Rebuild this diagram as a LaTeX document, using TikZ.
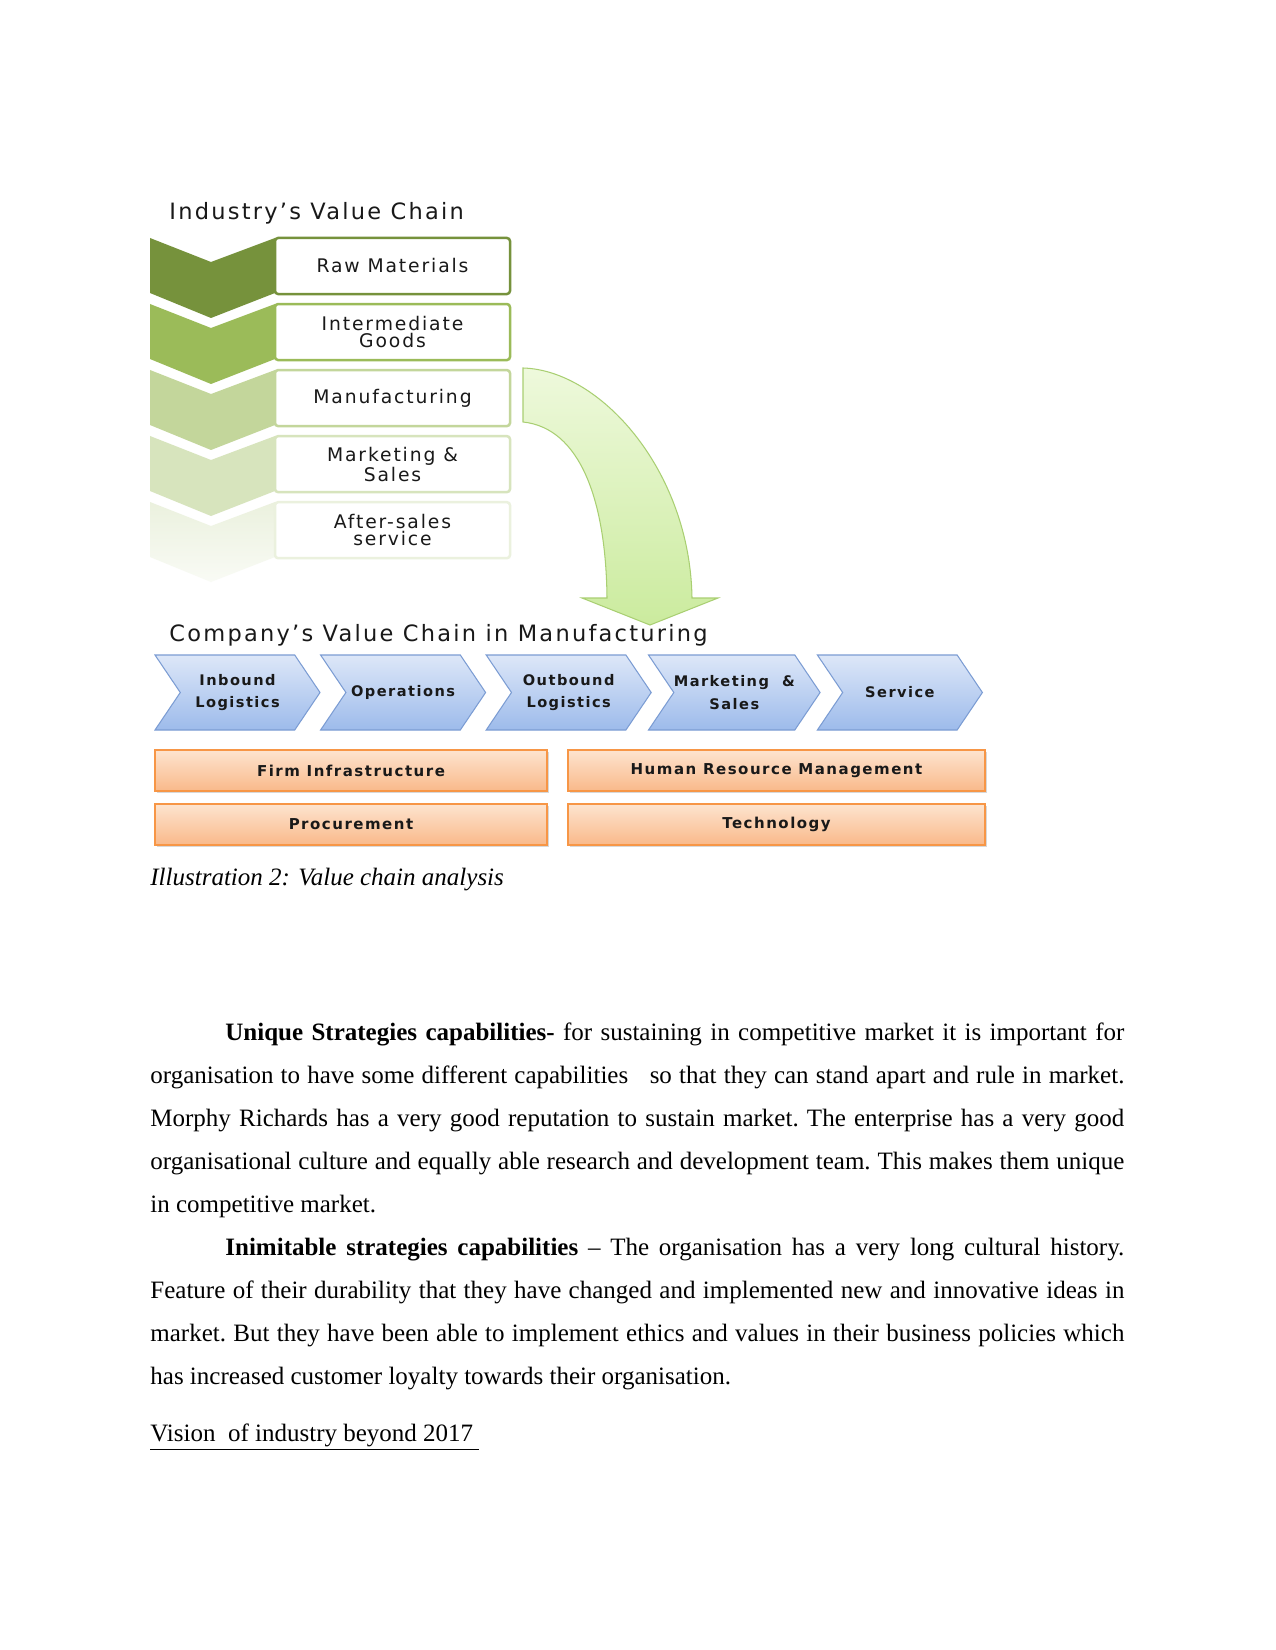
\documentclass[tikz,border=0pt]{standalone}
\usepackage{fontspec}
\usepackage{xcolor}
\usepackage{tikz}
\usetikzlibrary{shapes.symbols, positioning, shadows}
\setmainfont{Liberation Serif}
\newfontfamily\chainfont[LetterSpace=10]{DejaVu Sans}

\definecolor{oliveA}{HTML}{76923C}
\definecolor{oliveB}{HTML}{9BBB59}
\definecolor{oliveC}{HTML}{C3D69B}
\definecolor{oliveD}{HTML}{D7E4BD}
\definecolor{oliveE}{HTML}{EBF1DE}
\definecolor{blueTop}{HTML}{DDE7F8}
\definecolor{blueBot}{HTML}{9DBBEB}
\definecolor{blueLine}{HTML}{7B9CD3}
\definecolor{peachTop}{HTML}{FDE4CF}
\definecolor{peachBot}{HTML}{F9B98A}
\definecolor{peachLine}{HTML}{F79646}
\definecolor{bendTop}{HTML}{EEF9DC}
\definecolor{bendBot}{HTML}{CBEB9E}
\definecolor{bendLine}{HTML}{A9CF72}

\begin{document}
\begin{tikzpicture}[x=0.48pt, y=-0.48pt,
    headline/.style={anchor=west, inner sep=0pt, text=black!90, font=\chainfont\fontsize{10.8}{12}\selectfont},
    stagebox/.style={rectangle, fill=white, rounded corners=1.5pt, line width=1.2pt, minimum width=112.8pt, minimum height=26.9pt, align=center, text=black!90, font=\chainfont\fontsize{9}{8.3}\selectfont},
    primchev/.style={signal, signal from=west, signal to=east, signal pointer angle=112, inner sep=0pt, minimum width=79.2pt, minimum height=36pt, top color=blueTop, bottom color=blueBot, draw=blueLine, line width=0.5pt, align=center, text=black!90, font=\chainfont\bfseries\fontsize{7}{10.9}\selectfont},
    suppbox/.style={rectangle, minimum height=19.7pt, top color=peachTop, bottom color=peachBot, draw=peachLine, line width=0.6pt, drop shadow={shadow xshift=0.8pt, shadow yshift=-0.8pt, opacity=0.3}, text=black!90, font=\chainfont\bfseries\fontsize{7.2}{8.5}\selectfont},
    bodytext/.style={anchor=base west, inner sep=0pt, text width=467.5pt, align=justify, font=\fontsize{12}{20.64}\selectfont}]

    \path[use as bounding box, fill=white] (0,0) rectangle (1275,1650);

    % industry chain
    \node[headline] (indtitle) at (169,213) {Industry’s Value Chain};

    \fill[oliveA] (150,238) -- (211,262) -- (275,238) -- (275,293) -- (211,318) -- (150,293) -- cycle;
    \fill[oliveB] (150,304) -- (211,328) -- (275,304) -- (275,359) -- (211,384) -- (150,359) -- cycle;
    \fill[oliveC] (150,370) -- (211,394) -- (275,370) -- (275,425) -- (211,450) -- (150,425) -- cycle;
    \fill[oliveD] (150,436) -- (211,460) -- (275,436) -- (275,491) -- (211,516) -- (150,491) -- cycle;
    \shade[top color=oliveE, bottom color=oliveE!30] (150,502) -- (211,526) -- (275,502) -- (275,557) -- (211,582) -- (150,557) -- cycle;

    \node[stagebox, draw=oliveA] (raw) at (392.5,266) {Raw Materials};
    \node[stagebox, draw=oliveB, below=3.6pt of raw] (inter) {Intermediate\\Goods};
    \node[stagebox, draw=oliveC, below=3.6pt of inter] (manu) {Manufacturing};
    \node[stagebox, draw=oliveD, below=3.6pt of manu] (mkt) {Marketing \&\\Sales};
    \node[stagebox, draw=oliveE, below=3.6pt of mkt] (after) {After-sales\\service};

    % bent arrow
    \draw[bendLine, line width=0.5pt, top color=bendTop, bottom color=bendBot]
        (523,368) .. controls (600,370) and (690,470) .. (692,598) -- (718,598) -- (650,625)
        -- (582,598) -- (607,598) .. controls (606,500) and (580,428) .. (523,422) -- cycle;

    % company chain
    \node[headline] (comptitle) at (169,635) {Company’s Value Chain in Manufacturing};

    \node[primchev] (inbound) at (237.5,692.5) {Inbound\\Logistics};
    \node[primchev] (ops) at (403.1,692.5) {Operations};
    \node[primchev] (outbound) at (568.7,692.5) {Outbound\\Logistics};
    \node[primchev] (mktsales) at (734.3,692.5) {Marketing \ \&\\Sales};
    \node[primchev] (service) at (899.9,692.5) {Service};

    \node[suppbox, minimum width=188.2pt] (firm) at (351,770.5) {Firm Infrastructure};
    \node[suppbox, minimum width=188.2pt, below=5.6pt of firm] (procure) {Procurement};
    \node[suppbox, minimum width=200.2pt] (hrm) at (776.5,770.5) {Human Resource Management};
    \node[suppbox, minimum width=200.2pt, below=5.6pt of hrm] (tech) {Technology};

    \node[anchor=base west, inner sep=0pt, font=\itshape\fontsize{12}{14}\selectfont] (caption) at (150,885) {Illustration 2: Value chain analysis};

    % page text
    \node[bodytext] (paras) at (150,1040) {\frenchspacing\hspace*{36pt}\textbf{Unique Strategies capabilities-} for sustaining in competitive market it is important for\linebreak
        organisation to have some different capabilities \ \ so that they can stand apart and rule in market.\linebreak
        Morphy Richards has a very good reputation to sustain market. The enterprise has a very good\linebreak
        organisational culture and equally able research and development team. This makes them unique\linebreak
        in competitive market.\par
        \hspace*{36pt}\textbf{Inimitable strategies capabilities} – The organisation has a very long cultural history.\linebreak
        Feature of their durability that they have changed and implemented new and innovative ideas in\linebreak
        market. But they have been able to implement ethics and values in their business policies which\linebreak
        has increased customer loyalty towards their organisation.};

    \node[anchor=base west, inner sep=0pt, font=\fontsize{12}{14}\selectfont] (vision) at (150,1441) {\underline{Vision \ of industry beyond 2017 }};

\end{tikzpicture}
\end{document}
